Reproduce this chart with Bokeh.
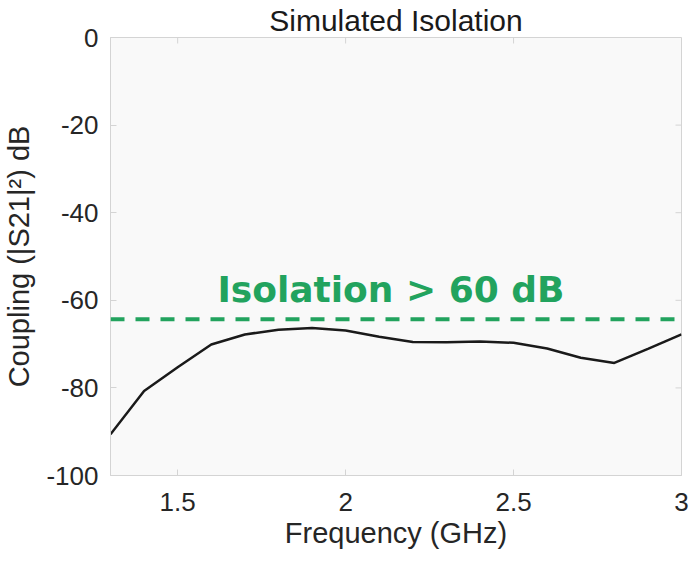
from bokeh.plotting import figure
from bokeh.models import Range1d, Span, Label, FixedTicker
from bokeh.embed import file_html
from bokeh.resources import INLINE

# ---- data ----
freq = [1.3, 1.4, 1.5, 1.6, 1.7, 1.8, 1.9, 2.0, 2.1, 2.2, 2.3, 2.4, 2.5, 2.6, 2.7, 2.8, 2.9, 3.0]
coupling = [-90.6, -80.7, -75.3, -70.1, -67.8, -66.7, -66.3, -66.9, -68.3, -69.5,
            -69.6, -69.4, -69.7, -71.0, -73.1, -74.3, -71.1, -67.8]
isolation_level = -64.3
x_ticks = [1.5, 2.0, 2.5, 3.0]
y_ticks = [0, -20, -40, -60, -80, -100]
title_text = "Simulated Isolation"
x_label = "Frequency (GHz)"
y_label = "Coupling (|S21|²) dB"
note_text = "Isolation > 60 dB"

X0, X1 = 1.3, 3.0
Y0, Y1 = -100, 0

FONT = "Liberation Sans"
TXT = "#262626"
AX = "#d4d4d4"
GREEN = "#22a35e"

W, H = 689, 553
BL, BT, BB, BR = 108, 36, 78, 8
FW, FH = W - BL - BR, H - BT - BB   # nominal 573 x 439 frame

p = figure(width=W, height=H, output_backend="svg", toolbar_location=None,
           x_range=Range1d(X0, X1), y_range=Range1d(Y0, Y1),
           min_border_left=BL, min_border_top=BT, min_border_bottom=BB, min_border_right=BR)

p.title.text = title_text
p.title.align = "center"
p.title.text_font = FONT
p.title.text_font_size = "30px"
p.title.text_font_style = "normal"
p.title.text_color = "#1a1a1a"
p.title.standoff = 2
p.title.offset = 0

p.background_fill_color = "#f9f9f9"
p.border_fill_color = "white"
p.outline_line_color = AX
p.xgrid.visible = False
p.ygrid.visible = False

def style_axis(ax):
    ax.axis_line_color = AX
    ax.major_tick_line_color = AX
    ax.major_tick_in = 6
    ax.major_tick_out = 0
    ax.minor_tick_line_color = None
    ax.major_label_text_font = FONT
    ax.major_label_text_font_size = "26px"
    ax.major_label_text_color = TXT
    ax.axis_label_text_font = FONT
    ax.axis_label_text_font_size = "29px"
    ax.axis_label_text_font_style = "normal"
    ax.axis_label_text_color = TXT

xa = p.xaxis[0]
ya = p.yaxis[0]
xa.ticker = FixedTicker(ticks=x_ticks)
ya.ticker = FixedTicker(ticks=y_ticks)
ya.major_label_overrides = {t: str(t) for t in y_ticks}
xa.axis_label = x_label
ya.axis_label = y_label
style_axis(xa)
style_axis(ya)
xa.major_label_standoff = 17
ya.major_label_standoff = 12
xa.axis_label_standoff = 3
ya.axis_label_standoff = 8

# inward ticks on the top and right edges of the box
tick_dy = (Y1 - Y0) * 6 / FH
tick_dx = (X1 - X0) * 6 / FW
p.segment(x0=x_ticks, y0=[Y1] * len(x_ticks), x1=x_ticks, y1=[Y1 - tick_dy] * len(x_ticks),
          line_color=AX, line_width=1)
p.segment(x0=[X1] * len(y_ticks), y0=y_ticks, x1=[X1 - tick_dx] * len(y_ticks), y1=y_ticks,
          line_color=AX, line_width=1)

p.add_layout(Span(location=isolation_level, dimension="width", line_color=GREEN,
                  line_width=4, line_dash="14 11"))
p.line(freq, coupling, line_color="#1a1a1a", line_width=2.5)

p.add_layout(Label(x=2.135, y=-62.2, text=note_text, text_align="center",
                   text_baseline="bottom",
                   text_font="DejaVu Sans", text_font_style="bold",
                   text_font_size="36px", text_color=GREEN))

open("out.html", "w").write(file_html(p, INLINE))
